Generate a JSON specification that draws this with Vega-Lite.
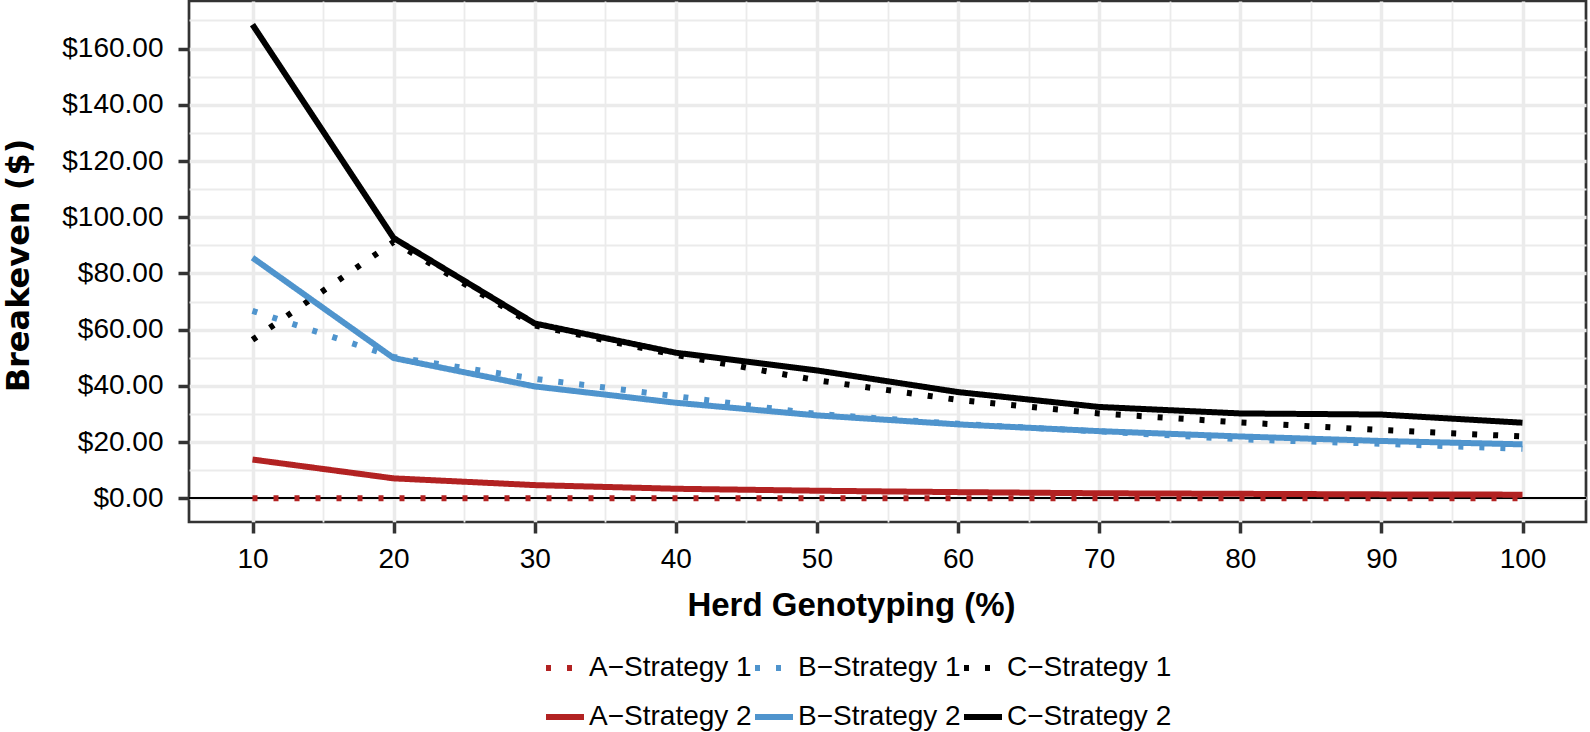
{
  "$schema": "https://vega.github.io/schema/vega-lite/v6.json",
  "autosize": {"type": "none"},
  "padding": {"left": 189, "top": 1, "right": 4, "bottom": 210},
  "width": 1397,
  "height": 521,
  "config": {
    "font": "Liberation Sans",
    "view": {"stroke": "#333333", "strokeWidth": 2.7}
  },
  "data": {
    "values": [
      {"pct": 10, "series": "A−Strategy 1", "value": 0},
      {"pct": 20, "series": "A−Strategy 1", "value": 0},
      {"pct": 30, "series": "A−Strategy 1", "value": 0},
      {"pct": 40, "series": "A−Strategy 1", "value": 0},
      {"pct": 50, "series": "A−Strategy 1", "value": 0},
      {"pct": 60, "series": "A−Strategy 1", "value": 0},
      {"pct": 70, "series": "A−Strategy 1", "value": 0},
      {"pct": 80, "series": "A−Strategy 1", "value": 0},
      {"pct": 90, "series": "A−Strategy 1", "value": 0},
      {"pct": 100, "series": "A−Strategy 1", "value": 0},
      {"pct": 10, "series": "B−Strategy 1", "value": 66.7},
      {"pct": 20, "series": "B−Strategy 1", "value": 50.3},
      {"pct": 30, "series": "B−Strategy 1", "value": 42.5},
      {"pct": 40, "series": "B−Strategy 1", "value": 36.3},
      {"pct": 50, "series": "B−Strategy 1", "value": 30.0},
      {"pct": 60, "series": "B−Strategy 1", "value": 26.5},
      {"pct": 70, "series": "B−Strategy 1", "value": 23.8},
      {"pct": 80, "series": "B−Strategy 1", "value": 21.0},
      {"pct": 90, "series": "B−Strategy 1", "value": 19.4},
      {"pct": 100, "series": "B−Strategy 1", "value": 17.6},
      {"pct": 10, "series": "C−Strategy 1", "value": 56.4},
      {"pct": 20, "series": "C−Strategy 1", "value": 91.2},
      {"pct": 30, "series": "C−Strategy 1", "value": 61.5},
      {"pct": 40, "series": "C−Strategy 1", "value": 51.0},
      {"pct": 50, "series": "C−Strategy 1", "value": 42.0},
      {"pct": 60, "series": "C−Strategy 1", "value": 35.0},
      {"pct": 70, "series": "C−Strategy 1", "value": 30.2},
      {"pct": 80, "series": "C−Strategy 1", "value": 27.0},
      {"pct": 90, "series": "C−Strategy 1", "value": 24.3},
      {"pct": 100, "series": "C−Strategy 1", "value": 22.0},
      {"pct": 10, "series": "A−Strategy 2", "value": 13.8},
      {"pct": 20, "series": "A−Strategy 2", "value": 7.1},
      {"pct": 30, "series": "A−Strategy 2", "value": 4.7},
      {"pct": 40, "series": "A−Strategy 2", "value": 3.4},
      {"pct": 50, "series": "A−Strategy 2", "value": 2.7},
      {"pct": 60, "series": "A−Strategy 2", "value": 2.2},
      {"pct": 70, "series": "A−Strategy 2", "value": 1.8},
      {"pct": 80, "series": "A−Strategy 2", "value": 1.6},
      {"pct": 90, "series": "A−Strategy 2", "value": 1.4},
      {"pct": 100, "series": "A−Strategy 2", "value": 1.3},
      {"pct": 10, "series": "B−Strategy 2", "value": 85.6},
      {"pct": 20, "series": "B−Strategy 2", "value": 49.9},
      {"pct": 30, "series": "B−Strategy 2", "value": 39.8},
      {"pct": 40, "series": "B−Strategy 2", "value": 34.0},
      {"pct": 50, "series": "B−Strategy 2", "value": 29.5},
      {"pct": 60, "series": "B−Strategy 2", "value": 26.3},
      {"pct": 70, "series": "B−Strategy 2", "value": 23.9},
      {"pct": 80, "series": "B−Strategy 2", "value": 22.0},
      {"pct": 90, "series": "B−Strategy 2", "value": 20.4},
      {"pct": 100, "series": "B−Strategy 2", "value": 19.2},
      {"pct": 10, "series": "C−Strategy 2", "value": 168.5},
      {"pct": 20, "series": "C−Strategy 2", "value": 92.6},
      {"pct": 30, "series": "C−Strategy 2", "value": 62.2},
      {"pct": 40, "series": "C−Strategy 2", "value": 51.8},
      {"pct": 50, "series": "C−Strategy 2", "value": 45.5},
      {"pct": 60, "series": "C−Strategy 2", "value": 37.8},
      {"pct": 70, "series": "C−Strategy 2", "value": 32.5},
      {"pct": 80, "series": "C−Strategy 2", "value": 30.2},
      {"pct": 90, "series": "C−Strategy 2", "value": 29.8},
      {"pct": 100, "series": "C−Strategy 2", "value": 26.9}
    ]
  },
  "layer": [
    {
      "mark": {"type": "rule", "color": "#000000", "strokeWidth": 1.6},
      "encoding": {
        "y": {
          "datum": 0,
          "type": "quantitative",
          "scale": {"domain": [-8.425, 176.925], "nice": false, "zero": false},
          "axis": {
            "values": [0, 10, 20, 30, 40, 50, 60, 70, 80, 90, 100, 110, 120, 130, 140, 150, 160, 170],
            "labelExpr": "datum.value % 20 === 0 ? format(datum.value, '$.2f') : ''",
            "labelOverlap": false,
            "labelFontSize": 28,
            "labelColor": "#000000",
            "labelPadding": 15,
            "labelFlush": false,
            "domain": false,
            "grid": true,
            "gridColor": "#EBEBEB",
            "gridWidth": {"condition": {"test": "datum.value % 20 === 0", "value": 3.5}, "value": 1.8},
            "ticks": true,
            "tickSize": 11,
            "tickWidth": 3.5,
            "tickColor": "#333333",
            "tickOpacity": {"condition": {"test": "datum.value % 20 === 0", "value": 1}, "value": 0},
            "title": "Breakeven ($)",
            "titleFont": "DejaVu Sans",
            "titleFontSize": 32,
            "titleFontWeight": "bold",
            "titleColor": "#000000",
            "titleAngle": 270,
            "titleX": -161,
            "titleY": 264,
            "titleAlign": "center",
            "titleBaseline": "alphabetic"
          }
        }
      }
    },
    {
      "mark": {"type": "line", "strokeWidth": 6, "strokeCap": "butt"},
      "encoding": {
        "x": {
          "field": "pct",
          "type": "quantitative",
          "scale": {"domain": [5.5, 104.5], "nice": false, "zero": false},
          "axis": {
            "values": [10, 15, 20, 25, 30, 35, 40, 45, 50, 55, 60, 65, 70, 75, 80, 85, 90, 95, 100],
            "labelExpr": "datum.value % 10 === 0 ? datum.label : ''",
            "labelOverlap": false,
            "labelFontSize": 28,
            "labelColor": "#000000",
            "labelPadding": 12,
            "labelFlush": false,
            "domain": false,
            "grid": true,
            "gridColor": "#EBEBEB",
            "gridWidth": {"condition": {"test": "datum.value % 10 === 0", "value": 3.5}, "value": 1.8},
            "ticks": true,
            "tickSize": 11,
            "tickWidth": 3.5,
            "tickColor": "#333333",
            "tickOpacity": {"condition": {"test": "datum.value % 10 === 0", "value": 1}, "value": 0},
            "title": "Herd Genotyping (%)",
            "titleFontSize": 33,
            "titleFontWeight": "bold",
            "titleColor": "#000000",
            "titleX": 662,
            "titleY": 93,
            "titleAlign": "center",
            "titleBaseline": "alphabetic"
          }
        },
        "y": {
          "field": "value",
          "type": "quantitative",
          "scale": {"domain": [-8.425, 176.925], "nice": false, "zero": false},
          "axis": {
            "values": [0, 10, 20, 30, 40, 50, 60, 70, 80, 90, 100, 110, 120, 130, 140, 150, 160, 170],
            "labelExpr": "datum.value % 20 === 0 ? format(datum.value, '$.2f') : ''",
            "labelOverlap": false,
            "labelFontSize": 28,
            "labelColor": "#000000",
            "labelPadding": 15,
            "labelFlush": false,
            "domain": false,
            "grid": true,
            "gridColor": "#EBEBEB",
            "gridWidth": {"condition": {"test": "datum.value % 20 === 0", "value": 3.5}, "value": 1.8},
            "ticks": true,
            "tickSize": 11,
            "tickWidth": 3.5,
            "tickColor": "#333333",
            "tickOpacity": {"condition": {"test": "datum.value % 20 === 0", "value": 1}, "value": 0},
            "title": "Breakeven ($)",
            "titleFont": "DejaVu Sans",
            "titleFontSize": 32,
            "titleFontWeight": "bold",
            "titleColor": "#000000",
            "titleAngle": 270,
            "titleX": -161,
            "titleY": 264,
            "titleAlign": "center",
            "titleBaseline": "alphabetic"
          }
        },
        "color": {
          "field": "series",
          "type": "nominal",
          "scale": {
            "domain": ["A−Strategy 1", "B−Strategy 1", "C−Strategy 1", "A−Strategy 2", "B−Strategy 2", "C−Strategy 2"],
            "range": ["#B22222", "#4F94CD", "#000000", "#B22222", "#4F94CD", "#000000"]
          },
          "legend": {
            "title": null,
            "orient": "none",
            "legendX": 354,
            "legendY": 645,
            "columns": 3,
            "direction": "horizontal",
            "columnPadding": -12,
            "rowPadding": 13,
            "labelOffset": 2,
            "padding": 0,
            "labelFontSize": 28,
            "labelColor": "#000000",
            "labelLimit": 400,
            "symbolType": "stroke",
            "symbolSize": 1444,
            "symbolStrokeWidth": 6
          }
        },
        "strokeDash": {
          "field": "series",
          "type": "nominal",
          "scale": {
            "domain": ["A−Strategy 1", "B−Strategy 1", "C−Strategy 1", "A−Strategy 2", "B−Strategy 2", "C−Strategy 2"],
            "range": [[5, 16], [5, 16], [5, 16], [1, 0], [1, 0], [1, 0]]
          },
          "legend": {
            "title": null,
            "orient": "none",
            "legendX": 354,
            "legendY": 645,
            "columns": 3,
            "direction": "horizontal",
            "columnPadding": -12,
            "rowPadding": 13,
            "labelOffset": 2,
            "padding": 0,
            "labelFontSize": 28,
            "labelColor": "#000000",
            "labelLimit": 400,
            "symbolType": "stroke",
            "symbolSize": 1444,
            "symbolStrokeWidth": 6
          }
        }
      }
    }
  ]
}
